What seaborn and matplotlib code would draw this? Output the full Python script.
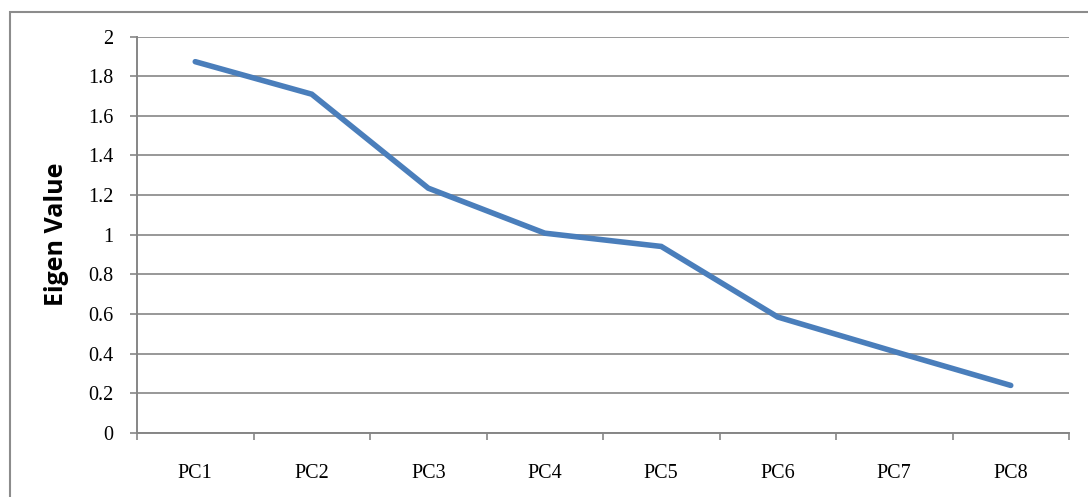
import matplotlib
matplotlib.use("Agg")
import matplotlib.pyplot as plt
import seaborn as sns
import pandas as pd
import numpy as np
from matplotlib.patches import Rectangle

components = ["PC1", "PC2", "PC3", "PC4", "PC5", "PC6", "PC7", "PC8"]
eigen_values = [1.873, 1.709, 1.235, 1.008, 0.941, 0.585, 0.411, 0.240]
y_ticks = [0, 0.2, 0.4, 0.6, 0.8, 1, 1.2, 1.4, 1.6, 1.8, 2]
y_tick_labels = ["0", "0.2", "0.4", "0.6", "0.8", "1", "1.2", "1.4", "1.6", "1.8", "2"]

df = pd.DataFrame({"component": components, "eigen": eigen_values})

sns.set_theme(style="white")
plt.rcParams["font.family"] = ["DejaVu Serif"]

grid_col = "#868686"

fig = plt.figure(figsize=(10.88, 4.97), dpi=100)
ax = fig.add_axes([137 / 1088, 64 / 497, 932 / 1088, 396.5 / 497])

sns.lineplot(data=df, x="component", y="eigen", ax=ax, color="#4A7EBB",
             linewidth=4.0, sort=False, solid_capstyle="round", solid_joinstyle="miter")

ax.set_xlim(-0.5, len(components) - 0.5)
ax.set_ylim(0, 2)
ax.set_yticks(y_ticks)
ax.set_yticklabels(y_tick_labels, fontsize=14.5, family="Liberation Serif", color="black")
ax.set_xticks(range(len(components)))
ax.set_xticklabels(components, fontsize=14.5, family="Liberation Serif", color="black")
ax.set_xticks(np.arange(-0.5, len(components), 1.0), minor=True)
ax.tick_params(axis="x", which="major", length=0, pad=22, bottom=True)
ax.tick_params(axis="x", which="minor", length=5, width=1.2, color=grid_col,
               direction="out", bottom=True)
ax.tick_params(axis="y", length=5, width=1.2, color=grid_col, direction="out", pad=12, left=True)

ax.grid(axis="y", color=grid_col, linewidth=1.2)
ax.set_axisbelow(True)
for side in ["top", "right"]:
    ax.spines[side].set_visible(False)
for side in ["left", "bottom"]:
    ax.spines[side].set_color(grid_col)
    ax.spines[side].set_linewidth(1.4)

ax.set_xlabel("")
ax.set_ylabel("Eigen Value", fontsize=18, fontweight="bold", family="Open Sans",
              labelpad=14, color="black")

# outer chart frame (cut by image edges)
fig.patches.append(Rectangle((10 / 1088, -0.1), 1.2, 1.1 - 12 / 497,
                             transform=fig.transFigure, fill=False,
                             edgecolor="#8c8c8c", linewidth=1.5))

fig.savefig("out.png", dpi=100)
